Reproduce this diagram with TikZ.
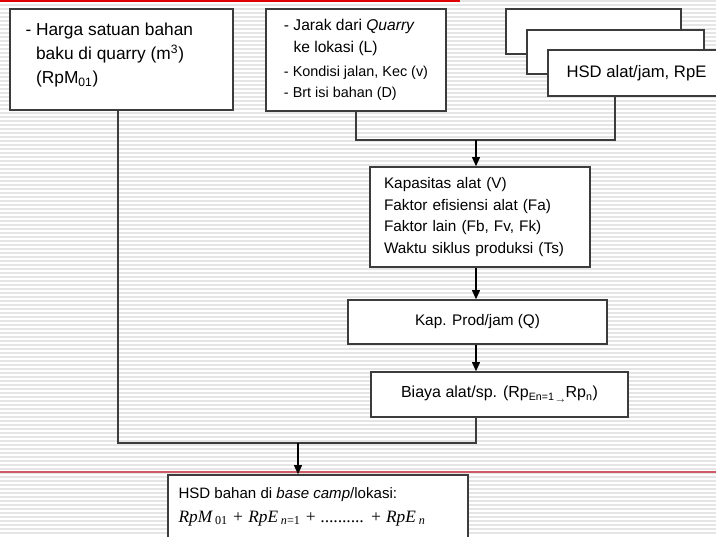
\documentclass[tikz,border=0pt]{standalone}
\usepackage{fontspec}
\setmainfont{Liberation Sans}
\newfontfamily\timesfont{Liberation Serif}
\usetikzlibrary{arrows.meta}

\tikzset{every picture/.style={line width=0.75pt}}
\tikzset{
	box/.style={draw={rgb, 255:red, 60; green, 60; blue, 60}, fill=white, line width=1pt, inner ysep=0pt},
	txt/.style={inner sep=0pt, align=left, anchor=north west},
	link/.style={draw={rgb, 255:red, 60; green, 60; blue, 60}, line width=1pt},
	flow/.style={draw=black, line width=1.1pt, -{Triangle[length=7pt,width=6pt]}},
	stripe/.style={draw=black!10, line width=1.1pt},
}

\begin{document}
\begin{tikzpicture}[x=0.75pt,y=0.75pt,yscale=-1,xscale=1]
	\useasboundingbox (0,0) rectangle (716,536);
	\clip (0,0) rectangle (716,536);
	
	%background stripes
	\foreach \yy in {1,5,...,533} \draw[stripe] (0,\yy) -- (716,\yy);
	%red rules
	\draw[draw={rgb, 255:red, 220; green, 0; blue, 0}, line width=1.5pt] (0,1) -- (460,1);
	\draw[draw={rgb, 255:red, 205; green, 90; blue, 100}, line width=1.5pt] (0,472) -- (716,472);
	
	%Shape: Rectangle [quarry price]
	\node[box, minimum width=167.25pt, minimum height=75.75pt] (quarry) at (121.5,59.5) {};
	\node[txt, font=\fontsize{13}{18}\selectfont] (quarrytxt) at (25,22) {- Harga satuan bahan\\ \phantom{- }baku di quarry (m\textsuperscript{3})\\ \phantom{- }(RpM\textsubscript{01})};
	
	%Shape: Rectangle [haul data]
	\node[box, minimum width=135pt, minimum height=76.5pt, align=left, font=\fontsize{10.8}{16}\selectfont] (jarak) at (356,60) {{\fontsize{11.7}{16}\selectfont - Jarak dari \textit{Quarry}}\\ {\fontsize{11.7}{16}\selectfont \phantom{- }ke lokasi (L)}\\[2pt] - Kondisi jalan, Kec (v)\\ - Brt isi bahan (D)};
	
	%Shape: Rectangle [stacked equipment sheets]
	\node[box, minimum width=131.25pt, minimum height=33.75pt] (rpeA) at (593.5,31.5) {};
	\node[box, minimum width=132.75pt, minimum height=33pt] (rpeB) at (615.5,52) {};
	\node[box, minimum width=132.75pt, minimum height=34.5pt, font=\fontsize{12.5}{15}\selectfont] (rpe) at (636.5,73) {HSD alat/jam, RpE};
	
	%Shape: Rectangle [equipment factors]
	\node[box, minimum width=165pt, minimum height=75pt, inner xsep=10.5pt, text width=144pt, align=left, font=\fontsize{11.5}{16.3}\selectfont] (kapasitas) at (480,217) {Kapasitas alat (V)\\ Faktor efisiensi alat (Fa)\\ Faktor lain (Fb, Fv, Fk)\\ Waktu siklus produksi (Ts)};
	
	%Shape: Rectangle [production]
	\node[box, minimum width=194.25pt, minimum height=33pt, font=\fontsize{11.5}{14}\selectfont] (kapprod) at (477.5,322) {Kap. Prod/jam (Q)};
	
	%Shape: Rectangle [equipment cost]
	\node[box, minimum width=192.75pt, minimum height=33.75pt, font=\fontsize{12}{14}\selectfont] (biaya) at (499.5,394.5) {Biaya alat/sp. (Rp\textsubscript{En=1\,\raisebox{-0.5ex}{$\scriptscriptstyle\rightarrow$}}Rp\textsubscript{n})};
	
	%Shape: Rectangle [result]
	\node[box, minimum width=225pt, minimum height=63.75pt] (hsd) at (318,517.5) {};
	\node[txt, font=\fontsize{11.3}{18}\selectfont] (hsdtxt) at (178,487) {HSD bahan di \textit{base camp}/lokasi:\\ {\timesfont\itshape\fontsize{13}{18}\selectfont RpM\,\textsubscript{\upshape 01} + RpE\,\textsubscript{n\upshape =1} + .......... + RpE\,\textsubscript{n}}};
	
	%Straight Lines [joins]
	\coordinate (jT) at (476,140);
	\coordinate (jC) at (615,140);
	\coordinate (jL) at (118,443);
	\coordinate (jM) at (298,443);
	
	\draw[link] (jC |- rpe.south) -- (jC) -- (jarak.south |- jC) -- (jarak.south);
	\draw[flow] (jT) -- (jT |- kapasitas.north);
	\draw[flow] (kapasitas.south -| jT) -- (jT |- kapprod.north);
	\draw[flow] (kapprod.south -| jT) -- (jT |- biaya.north);
	\draw[link] (quarry.south -| jL) -- (jL) -- (jL -| jT) -- (biaya.south -| jT);
	\draw[flow] (jM) -- (jM |- hsd.north);
	
\end{tikzpicture}
\end{document}
